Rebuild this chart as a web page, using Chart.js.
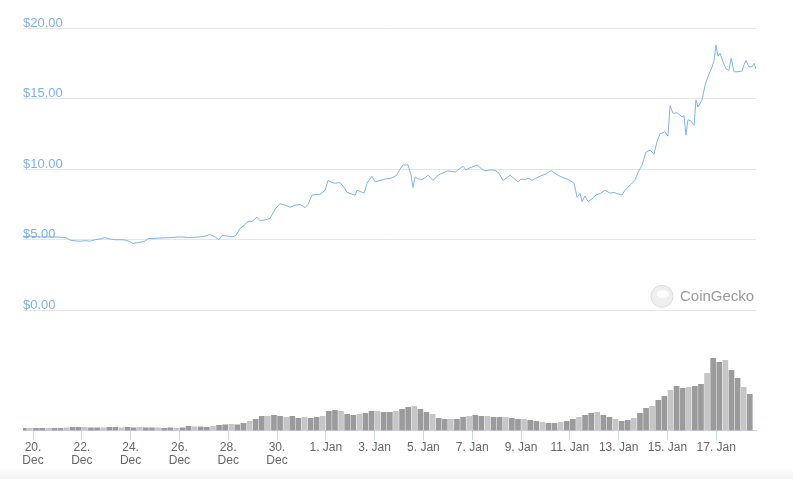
<!DOCTYPE html>
<html>
<head>
<meta charset="utf-8">
<script src="https://cdn.jsdelivr.net/npm/chart.js@4.4.1/dist/chart.umd.min.js"></script>
<style>
  html, body { margin: 0; padding: 0; background: #fff; }
  #wrap { position: relative; width: 793px; height: 479px; }
  #fade { position: absolute; left: 0; right: 0; bottom: 0; height: 12px;
          background: linear-gradient(#ffffff, #f2f2f2); }
</style>
</head>
<body>
<div id="wrap">
  <canvas id="price-chart" width="793" height="479"></canvas>
  <div id="fade"></div>
</div>
<script>
// days since 20 Dec 00:00
var priceDays = [
  -0.41, -0.12, 0.29, 0.70, 1.11, 1.35, 1.52, 1.72, 1.93, 2.13,
  2.34, 2.54, 2.75, 2.95, 3.16, 3.36, 3.57, 3.77, 3.98, 4.10,
  4.30, 4.59, 4.71, 5.00, 5.20, 5.61, 6.02, 6.43, 6.84, 7.05,
  7.25, 7.46, 7.62, 7.75, 7.99, 8.16, 8.32, 8.48, 8.65, 8.77,
  8.98, 9.18, 9.30, 9.51, 9.71, 9.84, 9.96, 10.12, 10.33, 10.53,
  10.74, 10.94, 11.15, 11.27, 11.43, 11.60, 11.76, 11.97, 12.09, 12.25,
  12.38, 12.58, 12.75, 12.87, 13.03, 13.20, 13.28, 13.44, 13.57, 13.69,
  13.89, 14.02, 14.22, 14.43, 14.63, 14.80, 14.92, 15.04, 15.16, 15.37,
  15.49, 15.57, 15.66, 15.78, 15.94, 16.07, 16.19, 16.39, 16.56, 16.68,
  16.84, 16.97, 17.13, 17.30, 17.46, 17.62, 17.75, 17.91, 18.07, 18.20,
  18.36, 18.52, 18.73, 18.93, 19.10, 19.26, 19.43, 19.55, 19.71, 19.88,
  20.00, 20.16, 20.33, 20.45, 20.61, 20.78, 20.94, 21.07, 21.19, 21.27,
  21.39, 21.52, 21.72, 21.89, 22.01, 22.17, 22.30, 22.42, 22.50, 22.62,
  22.75, 22.91, 23.07, 23.24, 23.44, 23.65, 23.81, 23.93, 24.14, 24.26,
  24.47, 24.67, 24.80, 24.96, 25.12, 25.29, 25.45, 25.57, 25.70, 25.90,
  26.02, 26.11, 26.23, 26.39, 26.60, 26.68, 26.76, 26.84, 26.97, 27.09,
  27.17, 27.25, 27.42, 27.54, 27.66, 27.83, 27.91, 27.99, 28.07, 28.16,
  28.28, 28.40, 28.52, 28.61, 28.73, 28.89, 29.06, 29.14, 29.22, 29.34,
  29.47, 29.55, 29.63
];
var prices = [
  5.2, 5.25, 5.2, 5.2, 5.18, 5.15, 4.97, 4.92, 4.9, 4.93,
  4.9, 5.0, 5.05, 5.15, 5.05, 5.0, 5.0, 4.98, 4.85, 4.73,
  4.8, 4.9, 5.08, 5.1, 5.12, 5.15, 5.2, 5.15, 5.2, 5.25,
  5.37, 5.2, 5.0, 5.3, 5.25, 5.2, 5.3, 5.8, 6.0, 6.25,
  6.3, 6.6, 6.35, 6.4, 6.5, 6.9, 7.25, 7.55, 7.45, 7.3,
  7.45, 7.5, 7.28, 7.5, 8.15, 8.2, 8.2, 8.5, 9.2, 9.05,
  9.0, 9.05, 8.7, 8.35, 8.25, 8.15, 8.5, 8.4, 8.3, 9.0,
  9.5, 9.1, 9.2, 9.3, 9.35, 9.45, 9.6, 10.0, 10.3, 10.3,
  9.6, 8.7, 9.45, 9.3, 9.27, 9.4, 9.57, 9.2, 9.5, 9.65,
  9.75, 9.88, 9.85, 9.8, 10.0, 10.2, 9.95, 10.1, 10.2, 10.3,
  10.05, 9.88, 9.95, 9.93, 9.7, 9.2, 9.4, 9.57, 9.35, 9.1,
  9.3, 9.27, 9.35, 9.2, 9.35, 9.5, 9.6, 9.7, 9.85, 9.88,
  9.7, 9.57, 9.4, 9.3, 9.2, 9.0, 8.0, 8.27, 7.7, 8.1,
  7.7, 7.9, 8.16, 8.27, 8.5, 8.3, 8.35, 8.27, 8.16, 8.5,
  8.87, 9.2, 9.8, 10.28, 11.2, 11.35, 11.06, 11.94, 12.5, 12.65,
  12.34, 14.5, 13.95, 14.0, 13.7, 13.8, 12.4, 13.5, 13.4, 13.1,
  14.9, 14.4, 14.9, 15.95, 16.55, 17.25, 17.7, 18.8, 18.0, 18.2,
  17.6, 17.1, 17.0, 17.85, 16.9, 16.9, 16.95, 17.4, 17.7, 17.25,
  17.25, 17.5, 17.1
];

// volume, one bar every 6 hours starting 19 Dec 15:00 (millions USD)
var volumeStartDay = -0.375;
var volumeStepDays = 0.25;
var volumes = [
  1, 1, 1, 1, 1, 1, 1, 1.25, 1.5, 1.5,
  1.5, 1.25, 1.25, 1.25, 1.5, 1.5, 1.25, 1.5, 1.25, 1.5,
  1.25, 1.25, 1.25, 1, 1.25, 1, 1.25, 2, 1.75, 1.75,
  1.5, 2, 2.5, 2.75, 3, 2.75, 3.5, 4.5, 5.5, 7,
  7, 7.5, 7, 6.5, 7, 6, 6.5, 6, 6.5, 7,
  9.5, 10, 9.5, 8, 7.5, 8, 8.5, 9.5, 9.5, 9,
  9, 9.5, 10.5, 11.5, 12, 10.5, 9, 8, 6, 5.5,
  5.5, 5.5, 6.5, 7, 7.5, 7, 7, 6.5, 6.5, 6.5,
  6, 5.5, 5.5, 5, 4.5, 4, 3.5, 3.5, 4, 4.5,
  5.5, 6.5, 7.5, 8.5, 9, 7.5, 6.5, 5.5, 4.5, 5,
  6, 8.5, 11, 12, 15, 17, 20, 22, 21, 21.5,
  22, 23, 28.5, 36, 34, 35, 30, 26, 21.5, 18
];

var priceTicks = [0, 5, 10, 15, 20];
var xTickDays = [0, 2, 4, 6, 8, 10, 12, 14, 16, 18, 20, 22, 24, 26, 28];
var xTickLabels = [
  ["20.", "Dec"], ["22.", "Dec"], ["24.", "Dec"], ["26.", "Dec"], ["28.", "Dec"], ["30.", "Dec"],
  "1. Jan", "3. Jan", "5. Jan", "7. Jan", "9. Jan", "11. Jan", "13. Jan", "15. Jan", "17. Jan"
];

var fontFamily = '"Liberation Sans", Arial, Helvetica, sans-serif';

var priceData = priceDays.map(function (d, i) { return { x: d, y: prices[i] }; });
var volumeData = volumes.map(function (v, i) { return { x: volumeStartDay + i * volumeStepDays, y: v }; });
var volumeColors = volumes.map(function (v, i) { return i % 3 === 1 ? '#c6c6c6' : '#9b9b9b'; });

var watermark = {
  id: 'watermark',
  afterDraw: function (chart) {
    var ctx = chart.ctx;
    var area = chart.chartArea;
    var cy = chart.scales.y.getPixelForValue(0) - 14;
    var cx = area.right - 94;
    ctx.save();
    ctx.beginPath();
    ctx.arc(cx, cy, 11, 0, Math.PI * 2);
    ctx.fillStyle = '#efefef';
    ctx.fill();
    ctx.strokeStyle = '#dcdcdc';
    ctx.lineWidth = 1;
    ctx.stroke();
    ctx.beginPath();
    ctx.ellipse(cx + 1, cy - 2, 6, 4, 0, 0, Math.PI * 2);
    ctx.fillStyle = '#ffffff';
    ctx.fill();
    ctx.font = '15px ' + fontFamily;
    ctx.fillStyle = '#9a9a9a';
    ctx.textBaseline = 'middle';
    ctx.fillText('CoinGecko', cx + 18, cy + 1);
    ctx.restore();
  }
};

new Chart(document.getElementById('price-chart'), {
  type: 'line',
  data: {
    datasets: [
      {
        type: 'line',
        data: priceData,
        yAxisID: 'y',
        borderColor: '#7cb5ec',
        borderWidth: 1,
        pointRadius: 0,
        tension: 0,
        fill: false
      },
      {
        type: 'bar',
        data: volumeData,
        yAxisID: 'yVol',
        backgroundColor: volumeColors,
        barThickness: 5,
        borderWidth: 0
      }
    ]
  },
  options: {
    responsive: false,
    animation: false,
    events: [],
    layout: { padding: { left: 23, right: 37, top: 28, bottom: 11 } },
    plugins: { legend: { display: false }, tooltip: { enabled: false } },
    scales: {
      x: {
        type: 'linear',
        min: -0.41,
        max: 29.63,
        offset: false,
        afterBuildTicks: function (scale) {
          scale.ticks = xTickDays.map(function (d) { return { value: d }; });
        },
        grid: { offset: false, drawOnChartArea: false, drawTicks: true, tickLength: 10, color: '#ccd6eb' },
        border: { display: true, color: '#ccd6eb' },
        ticks: {
          autoSkip: false,
          maxRotation: 0,
          padding: 0,
          color: '#666666',
          font: { family: fontFamily, size: 12, lineHeight: 1.15 },
          callback: function (value, index) { return xTickLabels[index]; }
        }
      },
      y: {
        position: 'left',
        min: -8.51,
        max: 20,
        afterBuildTicks: function (scale) {
          scale.ticks = priceTicks.map(function (v) { return { value: v }; });
        },
        grid: { color: '#e6e6e6', drawTicks: false },
        border: { display: false },
        ticks: {
          mirror: true,
          padding: 0,
          labelOffset: -5,
          color: '#7fb0e8',
          font: { family: fontFamily, size: 13 },
          callback: function (value) { return '$' + value.toFixed(2); }
        }
      },
      yVol: {
        display: false,
        min: 0,
        max: 201
      }
    }
  },
  plugins: [watermark]
});
</script>
</body>
</html>
